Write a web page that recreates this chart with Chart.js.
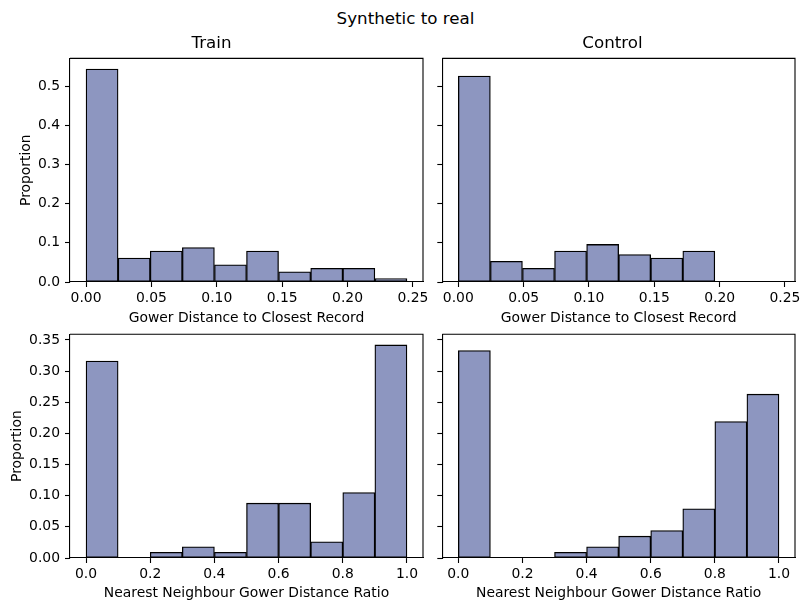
<!DOCTYPE html>
<html>
<head>
<meta charset="utf-8">
<script src="https://cdn.jsdelivr.net/npm/chart.js@4"></script>
<style>
  body { margin: 0; background: #fff; }
  #page { position: relative; width: 811px; height: 611px; overflow: hidden; }
  #suptitle {
    position: absolute; left: 0; top: 8px; width: 811px;
    text-align: center; font: 16.7px/20px "DejaVu Sans"; color: #000;
  }
  .cell { position: absolute; }
</style>
</head>
<body>
<div id="page">
  <div id="suptitle">Synthetic to real</div>
  <div class="cell" style="left:0;top:30px"><canvas id="c1" width="430" height="300"></canvas></div>
  <div class="cell" style="left:430px;top:30px"><canvas id="c2" width="381" height="300"></canvas></div>
  <div class="cell" style="left:0;top:330px"><canvas id="c3" width="430" height="281"></canvas></div>
  <div class="cell" style="left:430px;top:330px"><canvas id="c4" width="381" height="281"></canvas></div>
</div>
<script>
// bin edges (10 bins each)
const dcrEdges = [0, 0.0245, 0.0491, 0.0736, 0.0982, 0.1227, 0.1472, 0.1718, 0.1963, 0.2209, 0.2454];
const nndrEdges = [0, 0.1, 0.2, 0.3, 0.4, 0.5, 0.6, 0.7, 0.8, 0.9, 1.0];

// proportions per bin
const trainDcr = [0.544, 0.061, 0.079, 0.088, 0.044, 0.079, 0.026, 0.035, 0.035, 0.009];
const controlDcr = [0.526, 0.053, 0.035, 0.079, 0.096, 0.070, 0.061, 0.079, 0, 0];
const trainNndr = [0.316, 0, 0.009, 0.018, 0.009, 0.088, 0.088, 0.026, 0.105, 0.342];
const controlNndr = [0.333, 0, 0, 0.009, 0.018, 0.035, 0.044, 0.079, 0.219, 0.263];

// tick values
const dcrTicks = [0, 0.05, 0.10, 0.15, 0.20, 0.25];
const nndrTicks = [0, 0.2, 0.4, 0.6, 0.8, 1.0];
const topYTicks = [0, 0.1, 0.2, 0.3, 0.4, 0.5];
const bottomYTicks = [0, 0.05, 0.10, 0.15, 0.20, 0.25, 0.30, 0.35];

Chart.defaults.font.family = "DejaVu Sans";
Chart.defaults.font.size = 13.9;
Chart.defaults.color = "#000";

const barFill = "rgb(141,150,192)";

// draw top and right spines
const framePlugin = {
    id: "frame",
    afterDraw(chart) {
        const a = chart.chartArea;
        const ctx = chart.ctx;
        ctx.save();
        ctx.strokeStyle = "#000";
        ctx.lineWidth = 1.1;
        ctx.beginPath();
        ctx.moveTo(a.left, a.top);
        ctx.lineTo(a.right, a.top);
        ctx.lineTo(a.right, a.bottom);
        ctx.stroke();
        ctx.restore();
    }
};

function noPad(s) {
    s.paddingTop = 0;
    s.paddingBottom = 0;
    s.paddingLeft = 0;
    s.paddingRight = 0;
}

function buildHist(id, cfg) {
    const edges = cfg.edges;
    const points = cfg.values.map((v, i) => ({x: (edges[i] + edges[i + 1]) / 2, y: v}));
    const span = edges[edges.length - 1] - edges[0];

    new Chart(document.getElementById(id), {
        type: "bar",
        data: {
            datasets: [{
                data: points,
                backgroundColor: barFill,
                borderColor: "#000",
                borderWidth: 1.3,
                borderSkipped: false,
                barPercentage: 1,
                categoryPercentage: 1
            }]
        },
        options: {
            responsive: false,
            animation: false,
            devicePixelRatio: 1,
            layout: {padding: cfg.padding},
            plugins: {
                legend: {display: false},
                tooltip: {enabled: false},
                title: cfg.title ? {
                    display: true,
                    text: cfg.title,
                    font: {size: 16.7, weight: "normal"},
                    padding: {top: 4, bottom: 4.3}
                } : {display: false}
            },
            scales: {
                x: {
                    type: "linear",
                    offset: false,
                    min: edges[0] - 0.05 * span,
                    max: edges[edges.length - 1] + 0.05 * span,
                    afterBuildTicks: s => { s.ticks = cfg.xTicks.map(v => ({value: v})); },
                    afterFit: s => { s.height = cfg.xHeight; noPad(s); },
                    ticks: {
                        padding: 3.4,
                        maxRotation: 0,
                        autoSkip: false,
                        callback: v => v.toFixed(cfg.xDigits)
                    },
                    grid: {offset: false, drawOnChartArea: false, drawTicks: true, tickLength: 5, tickColor: "#000", tickWidth: 1.1},
                    border: {display: true, color: "#000", width: 1.1},
                    title: {display: true, text: cfg.xLabel, padding: {top: 0, bottom: cfg.xTitlePad}}
                },
                y: {
                    min: 0,
                    max: cfg.yMax,
                    afterBuildTicks: s => { s.ticks = cfg.yTicks.map(v => ({value: v})); },
                    afterFit: s => { s.width = cfg.yWidth; noPad(s); },
                    ticks: {
                        display: cfg.showY,
                        padding: 5,
                        autoSkip: false,
                        callback: v => v.toFixed(cfg.yDigits)
                    },
                    grid: {drawOnChartArea: false, drawTicks: true, tickLength: 5, tickColor: "#000", tickWidth: 1.1},
                    border: {display: true, color: "#000", width: 1.1},
                    title: {display: cfg.showY, text: "Proportion", padding: {top: cfg.yTitlePad, bottom: 0}}
                }
            }
        },
        plugins: [framePlugin]
    });
}

const topMax = Math.max(...trainDcr, ...controlDcr) * 1.05;
const bottomMax = Math.max(...trainNndr, ...controlNndr) * 1.05;

buildHist("c1", {
    edges: dcrEdges, values: trainDcr, title: "Train",
    xTicks: dcrTicks, xDigits: 2, xLabel: "Gower Distance to Closest Record", xHeight: 48, xTitlePad: 3.2,
    yTicks: topYTicks, yDigits: 1, yMax: topMax, yWidth: 70, yTitlePad: 17.7, showY: true,
    padding: {top: 0, right: 7, bottom: 0, left: 0}
});
buildHist("c2", {
    edges: dcrEdges, values: controlDcr, title: "Control",
    xTicks: dcrTicks, xDigits: 2, xLabel: "Gower Distance to Closest Record", xHeight: 48, xTitlePad: 3.2,
    yTicks: topYTicks, yDigits: 1, yMax: topMax, yWidth: 12.3, yTitlePad: 0, showY: false,
    padding: {top: 0, right: 16, bottom: 0, left: 0}
});
buildHist("c3", {
    edges: nndrEdges, values: trainNndr, title: null,
    xTicks: nndrTicks, xDigits: 1, xLabel: "Nearest Neighbour Gower Distance Ratio", xHeight: 53, xTitlePad: 9.2,
    yTicks: bottomYTicks, yDigits: 2, yMax: bottomMax, yWidth: 70, yTitlePad: 8.7, showY: true,
    padding: {top: 4.3, right: 7, bottom: 0, left: 0}
});
buildHist("c4", {
    edges: nndrEdges, values: controlNndr, title: null,
    xTicks: nndrTicks, xDigits: 1, xLabel: "Nearest Neighbour Gower Distance Ratio", xHeight: 53, xTitlePad: 9.2,
    yTicks: bottomYTicks, yDigits: 2, yMax: bottomMax, yWidth: 12.3, yTitlePad: 0, showY: false,
    padding: {top: 4.3, right: 16, bottom: 0, left: 0}
});
</script>
</body>
</html>
